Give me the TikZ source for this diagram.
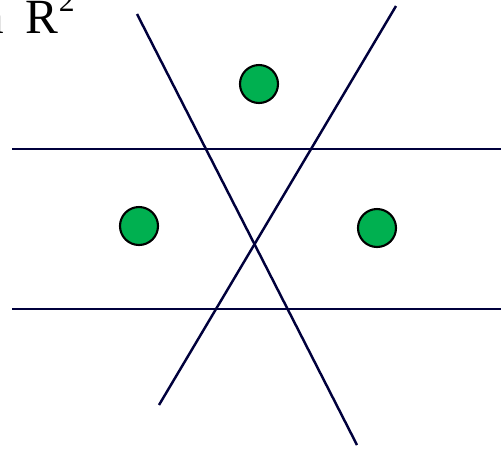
\documentclass[tikz,border=0pt]{standalone}
\usepackage{fontspec}
\setmainfont{Liberation Serif}
\definecolor{linenavy}{RGB}{0,0,60}
\definecolor{dotgreen}{RGB}{0,176,80}

\begin{document}
\begin{tikzpicture}[
  x=0.02cm, y=-0.02cm,
  cut/.style={draw=linenavy, line width=1.4pt},
  point/.style={circle, draw=black, line width=1.2pt, fill=dotgreen, minimum size=0.76cm, inner sep=0pt}
]
\useasboundingbox (0,0) rectangle (501,451);

% Title
\node[anchor=base east, inner sep=0pt, font=\fontsize{28}{32}\selectfont] (title) at (75,33) {in\hspace{0.45em}R\raisebox{0.44em}{\fontsize{18}{20}\selectfont 2}};

% Separating lines
\draw[cut] (137,14) -- (357,445);
\draw[cut] (396,6) -- (159,405);
\draw[cut] (12,149) -- (501,149);
\draw[cut] (12,309) -- (501,309);

% Points
\node[point] (top) at (259,84) {};
\node[point] (left) at (139,226) {};
\node[point] (right) at (377,228) {};

\end{tikzpicture}
\end{document}
